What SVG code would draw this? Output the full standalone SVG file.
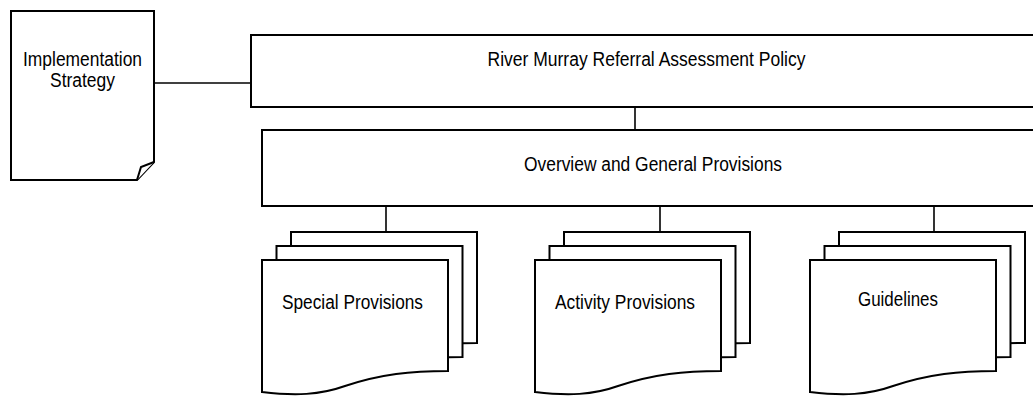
<svg xmlns="http://www.w3.org/2000/svg" width="1033" height="396" viewBox="0 0 1033 396">
<style>
.shape{fill:#fff;stroke:#000;stroke-width:2;stroke-linejoin:miter}
.conn{fill:none;stroke:#000;stroke-width:1.6}
.lbl{font-family:"Liberation Sans",Arial,sans-serif;font-size:19.5px;fill:#000;text-anchor:middle}
</style>
<defs>
<path id="doc" d="M0,0 h186 v111 c-37,0 -67,3 -103,15 c-25,9 -50,10 -83,6 z"/>
</defs>
<rect width="1033" height="396" fill="#fff"/>
<g id="connectors">
<line class="conn" x1="154" y1="83" x2="251" y2="83"/>
<line class="conn" x1="635" y1="107" x2="635" y2="130"/>
<line class="conn" x1="386" y1="206" x2="386" y2="232"/>
<line class="conn" x1="660" y1="206" x2="660" y2="232"/>
<line class="conn" x1="934" y1="206" x2="934" y2="232"/>
</g>
<g id="implementation-strategy">
<path class="shape" d="M11,11 H154 V162 L137,180 H11 Z"/>
<path class="shape" d="M137,180 L141,167 L154,162"/>
<text class="lbl" x="82.5" y="66" textLength="119" lengthAdjust="spacingAndGlyphs">Implementation</text>
<text class="lbl" x="82.5" y="87" textLength="65" lengthAdjust="spacingAndGlyphs">Strategy</text>
</g>
<g id="river-murray-policy">
<rect class="shape" x="251" y="35" width="800" height="72"/>
<text class="lbl" x="646.5" y="66" textLength="318" lengthAdjust="spacingAndGlyphs">River Murray Referral Assessment Policy</text>
</g>
<g id="overview-general">
<rect class="shape" x="262" y="130" width="800" height="76"/>
<text class="lbl" x="653" y="171" textLength="258" lengthAdjust="spacingAndGlyphs">Overview and General Provisions</text>
</g>
<g id="special-provisions">
<use href="#doc" class="shape" x="291" y="232"/>
<use href="#doc" class="shape" x="276.5" y="246"/>
<use href="#doc" class="shape" x="262" y="260"/>
<text class="lbl" x="352.5" y="309" textLength="141" lengthAdjust="spacingAndGlyphs">Special Provisions</text>
</g>
<g id="activity-provisions">
<use href="#doc" class="shape" x="564" y="232"/>
<use href="#doc" class="shape" x="549.5" y="246"/>
<use href="#doc" class="shape" x="535" y="260"/>
<text class="lbl" x="625" y="309" textLength="140" lengthAdjust="spacingAndGlyphs">Activity Provisions</text>
</g>
<g id="guidelines">
<use href="#doc" class="shape" x="839" y="232"/>
<use href="#doc" class="shape" x="824.5" y="246"/>
<use href="#doc" class="shape" x="810" y="260"/>
<text class="lbl" x="898" y="306" textLength="80" lengthAdjust="spacingAndGlyphs">Guidelines</text>
</g>
</svg>
